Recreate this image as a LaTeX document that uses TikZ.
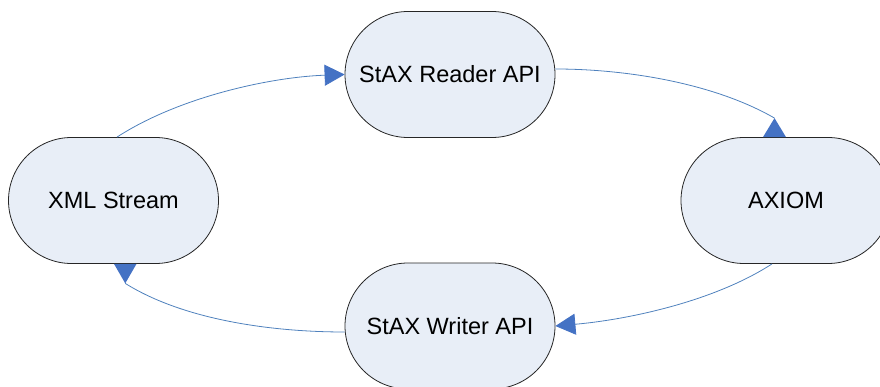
\documentclass[tikz,border=0pt]{standalone}
\usepackage{fontspec}
\setmainfont{Liberation Sans}
\usetikzlibrary{arrows.meta,calc}
\definecolor{nodefill}{RGB}{232,238,247}
\definecolor{linkblue}{RGB}{79,129,189}
\definecolor{headblue}{RGB}{68,114,196}
\begin{document}
\begin{tikzpicture}[x=1pt,y=1pt,
  stadium/.style={rectangle, rounded corners=63pt, draw=black!85, line width=0.8pt,
    fill=nodefill, minimum width=210pt, minimum height=126pt, inner sep=0pt,
    font=\fontsize{23.5}{28}\selectfont},
  link/.style={draw=linkblue, line width=0.8pt},
  headtip/.style={-{Triangle[length=20pt,width=21pt,color=headblue]}},
  revhead/.style={fill=headblue, draw=none}]
\useasboundingbox (0,0) rectangle (880,-387);
\node[stadium] (reader) at (450,-74.5) {StAX Reader API};
\node[stadium] (xml) at (113.5,-200.5) {XML Stream};
\node[stadium] (axiom) at (786,-200.5) {AXIOM};
\node[stadium] (writer) at (450,-326) {StAX Writer API};
% reversed heads sitting on the node borders
\coordinate (axapex) at ($(axiom.north)+(-11.5,19)$);
\coordinate (xmlapex) at ($(xml.south)+(11.75,-19.5)$);
\fill[revhead] ($(axiom.north)+(-23,0)$) -- (axiom.north) -- (axapex) -- cycle;
\fill[revhead] ($(xml.south)+(0.5,0)$) -- ($(xml.south)+(23,0)$) -- (xmlapex) -- cycle;
% connectors
\draw[link,headtip] ($(xml.north)+(3.5,0)$) to[out=33,in=182,looseness=0.8] (reader.west);
\draw[link] ($(reader.east)+(0,5.5)$) to[out=0,in=150,looseness=0.8] (axapex);
\draw[link,headtip] ($(axiom.south)+(-14,0)$) to[out=213,in=5,looseness=0.8] (writer.east);
\draw[link] ($(writer.west)+(0,-6)$) to[out=180,in=328,looseness=0.8] (xmlapex);
\end{tikzpicture}
\end{document}
